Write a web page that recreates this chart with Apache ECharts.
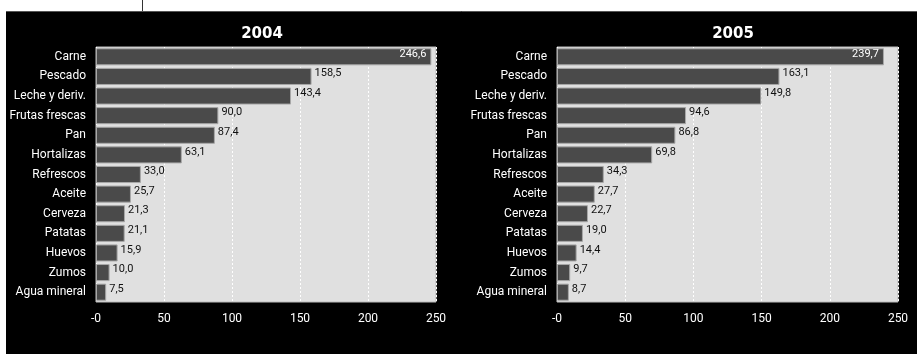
<!DOCTYPE html>
<html><head><meta charset="utf-8">
<script src="https://cdn.jsdelivr.net/npm/echarts@6/dist/echarts.min.js"></script>
<style>html,body{margin:0;padding:0;background:#fff}#c{width:917px;height:354px}</style>
</head><body><div id="c"></div>
<script>
const categories = ['Carne','Pescado','Leche y deriv.','Frutas frescas','Pan','Hortalizas','Refrescos','Aceite','Cerveza','Patatas','Huevos','Zumos','Agua mineral'];
const values2004 = [246.6,158.5,143.4,90.0,87.4,63.1,33.0,25.7,21.3,21.1,15.9,10.0,7.5];
const values2005 = [239.7,163.1,149.8,94.6,86.8,69.8,34.3,27.7,22.7,19.0,14.4,9.7,8.7];
const titles = ['2004','2005'];
const tickLabels = {0:'-0',50:'50',100:'100',150:'150',200:'200',250:'250'};

const chart = echarts.init(document.getElementById('c'), null, {renderer:'canvas'});
const fmt = v => v.toFixed(1).replace('.', ',');
function mkSeries(data, idx){
  return {
    type:'bar', xAxisIndex:idx, yAxisIndex:idx,
    data: data.map((v,i)=>({value:v, label: i===0 ? {position:'insideRight', color:'#fff', offset:[-2,-3]} : {}})),
    barCategoryGap:'13%',
    itemStyle:{color:'#4a4a4a', borderColor:'#a8a8a8', borderWidth:1},
    label:{show:true, position:'right', distance:3, color:'#111', fontSize:11, fontFamily:'Roboto, Arial, sans-serif', offset:[0,-3], formatter:p=>fmt(p.value)},
    z:3
  };
}
function xAx(idx){
  return {type:'value', gridIndex:idx, min:0, max:250, interval:50,
    axisLine:{show:false}, axisTick:{show:false},
    splitLine:{show:true, lineStyle:{color:'#ffffff', type:[2,2], width:1}},
    axisLabel:{color:'#fff', fontSize:12, fontFamily:'Roboto, Arial, sans-serif', margin:11, formatter:v=>tickLabels[v]}};
}
function yAx(idx){
  return {type:'category', gridIndex:idx, data:categories, inverse:true,
    axisLine:{show:false}, axisTick:{show:false},
    axisLabel:{color:'#fff', fontSize:12, fontFamily:'"Liberation Sans Narrow", "Roboto", sans-serif', margin:10}};
}
chart.setOption({
  backgroundColor:'#000',
  animation:false,
  title:[
    {text:titles[0], left:257, top:22, textAlign:'center', textStyle:{color:'#fff', fontSize:15, fontWeight:'bold', fontFamily:'"DejaVu Sans", sans-serif'}},
    {text:titles[1], left:728, top:22, textAlign:'center', textStyle:{color:'#fff', fontSize:15, fontWeight:'bold', fontFamily:'"DejaVu Sans", sans-serif'}}
  ],
  grid:[
    {left:96, right:481, top:47, height:255, show:true, backgroundColor:'#e0e0e0', borderWidth:1, borderColor:'#bdbdbd', containLabel:false},
    {left:557, right:19, top:47, height:255, show:true, backgroundColor:'#e0e0e0', borderWidth:1, borderColor:'#bdbdbd', containLabel:false}
  ],
  xAxis:[xAx(0), xAx(1)],
  yAxis:[yAx(0), yAx(1)],
  series:[mkSeries(values2004,0), mkSeries(values2005,1)],
  graphic:[
    {type:'rect', shape:{x:0,y:0,width:917,height:11}, style:{fill:'#fff'}, silent:true},
    {type:'rect', shape:{x:0,y:0,width:6,height:354}, style:{fill:'#fff'}, silent:true},
    {type:'line', shape:{x1:6,y1:11.5,x2:917,y2:11.5}, style:{stroke:'#555', lineWidth:1}, silent:true},
    {type:'line', shape:{x1:142.5,y1:0,x2:142.5,y2:11}, style:{stroke:'#333', lineWidth:1}, silent:true}
  ]
});
</script></body></html>
